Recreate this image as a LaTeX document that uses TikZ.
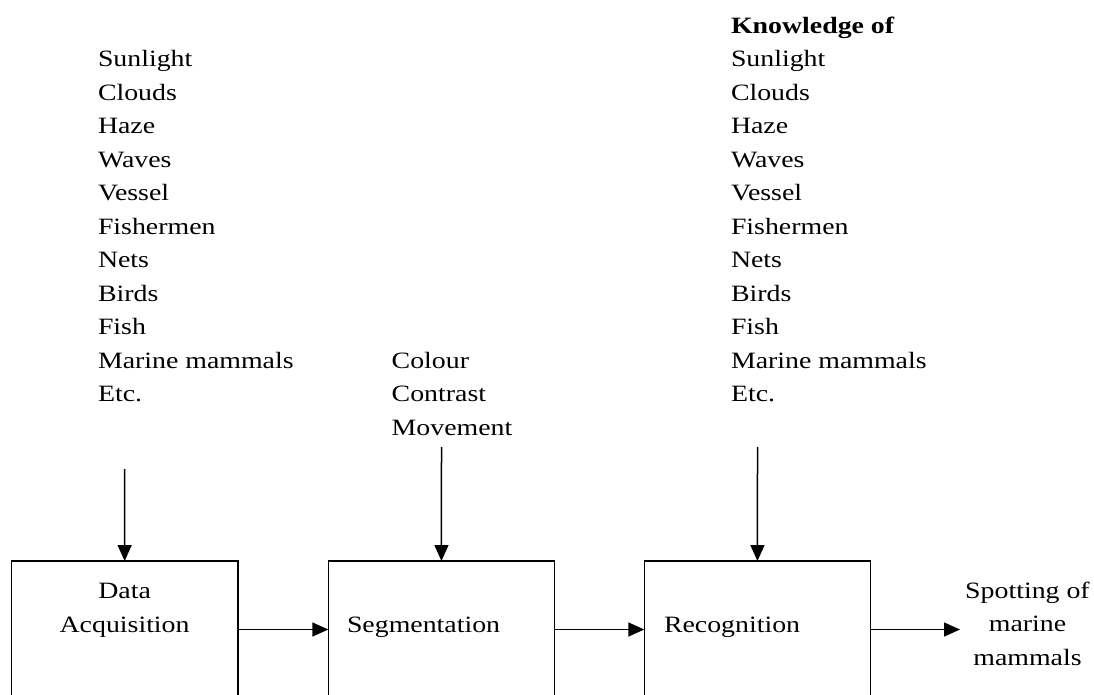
\documentclass[tikz,border=0pt]{standalone}
\usepackage{fontspec}
\setmainfont{Liberation Serif}[FakeStretch=1.19]
\usetikzlibrary{arrows.meta}
\begin{document}
\begin{tikzpicture}[x=1pt,y=-1pt,
  font=\fontsize{23.4}{33.5}\selectfont,
  txt/.style={inner sep=0pt, outer sep=0pt, anchor=base west},
  ctxt/.style={inner sep=0pt, outer sep=0pt, anchor=base},
  box/.style={draw, line width=1.6pt, inner sep=0pt, outer sep=0pt, anchor=north west,
              minimum width=226.3pt, minimum height=137pt},
  arr/.style={line width=1.5pt, -{Triangle[length=16pt,width=14pt]}}]
\useasboundingbox (0,0) rectangle (1094,694);
% left list
\foreach \t [count=\i] in {Sunlight,Clouds,Haze,Waves,Vessel,Fishermen,Nets,Birds,Fish,Marine mammals,Etc.}
  \node[txt] (L\i) at (98,{66.7+33.5*(\i-1)}) {\t};
% right list
\node[txt] (K) at (731,33.2) {\bfseries Knowledge of};
\foreach \t [count=\i] in {Sunlight,Clouds,Haze,Waves,Vessel,Fishermen,Nets,Birds,Fish,Marine mammals,Etc.}
  \node[txt] (R\i) at (731,{66.7+33.5*(\i-1)}) {\t};
% middle list
\foreach \t [count=\i] in {Colour,Contrast,Movement}
  \node[txt] (M\i) at (391.7,{368.2+33.5*(\i-1)}) {\t};
% boxes
\node[box] (B1) at (11.5,561) {};
\node[box] (B2) at (328.3,561) {};
\node[box] (B3) at (644.3,561) {};
% box texts
\node[ctxt] (T1a) at (124.6,598.5) {Data};
\node[ctxt] (T1b) at (124.6,632.5) {Acquisition};
\node[txt] (T2) at (347,632.5) {Segmentation};
\node[txt] (T3) at (664,632.5) {Recognition};
% output
\node[ctxt] (O1) at (1027.5,598) {Spotting of};
\node[ctxt] (O2) at (1027.5,631.5) {marine};
\node[ctxt] (O3) at (1027.5,665) {mammals};
% arrows
\coordinate (a1) at (124.6,469);
\coordinate (a2) at (441.5,447);
\coordinate (a3) at (757.5,447);
\coordinate (e) at (960,629.5);
\draw[arr] (a1) -- (B1.north);
\draw[arr] (a2) -- (B2.north);
\draw[arr] (a3) -- (B3.north);
\draw[arr] (B1.east) -- (B2.west);
\draw[arr] (B2.east) -- (B3.west);
\draw[arr] (B3.east) -- (e);
\end{tikzpicture}
\end{document}
